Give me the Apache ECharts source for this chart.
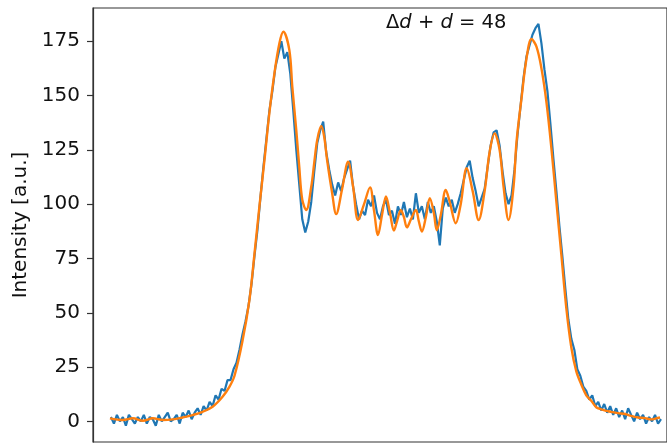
<!DOCTYPE html>
<html>
<head>
<meta charset="utf-8">
<title>Intensity profile</title>
<script src="https://cdn.jsdelivr.net/npm/echarts@6/dist/echarts.min.js"></script>
<style>
  html, body { margin: 0; padding: 0; background: #fff; }
  #chart { width: 667px; height: 444px; }
</style>
</head>
<body>
<div id="chart"></div>
<script>
// y ticks shown on the left axis
var yTicks = [0, 25, 50, 75, 100, 125, 150, 175];

// measured profile (blue), equally spaced samples
var measStart = 18, measStep = 3;
var measured = [
  2, -1, 3, 0, 2, -2, 3, 1, -1, 2,
  0, 3, -1, 2, 1, -2, 3, 0, 2, 4,
  0, 1, 3, -1, 4, 2, 5, 1, 4, 6,
  3, 7, 5, 9, 7, 12, 10, 15, 14, 19,
  19, 24, 27, 33, 40, 46, 53, 63, 76, 88,
  103, 117, 130, 143, 152, 163, 169, 175, 167, 170,
  160, 143, 125, 109, 93, 87, 92, 101, 115, 128,
  134, 138, 124, 116, 109, 104, 110, 106, 112, 116,
  120, 108, 100, 93, 97, 95, 102, 99, 104, 96,
  93, 99, 102, 95, 97, 91, 99, 95, 101, 94,
  98, 93, 105, 96, 99, 93, 101, 96, 99, 92,
  81, 98, 103, 99, 102, 96, 100, 105, 111, 117,
  120, 112, 106, 99, 103, 107, 117, 127, 133, 134,
  127, 115, 105, 100, 104, 116, 132, 145, 158, 168,
  173, 178, 181, 183, 174, 162, 152, 137, 121, 106,
  90, 76, 61, 47, 38, 33, 24, 21, 16, 14,
  10, 12, 7, 9, 5, 8, 4, 7, 3, 6,
  2, 5, 1, 6, 3, 0, 4, 1, 3, -1,
  2, 0, 3, -1, 1
];

// fitted profile (orange)
var fitX = [17, 30, 40, 50, 60, 70, 80, 90, 100, 110,
  120, 130, 137, 142, 150, 157, 162, 167, 172, 177,
  182, 187, 191, 197, 200, 204, 207, 210, 214, 219,
  222, 225, 229, 232, 235, 240, 244, 250, 256, 261,
  266, 272, 278, 282, 286, 290, 294, 298, 302, 305,
  309, 312, 315, 319, 324, 327, 330, 334, 338, 342,
  345, 349, 354, 358, 364, 369, 375, 381, 387, 393,
  398, 403, 408, 412, 417, 422, 425, 430, 435, 440,
  445, 450, 455, 460, 465, 470, 475, 480, 485, 490,
  495, 500, 505, 510, 515, 520, 527, 534, 540, 547,
  554, 560, 565, 569];
var fitY = [1.4, 0.6, 1.4, 0.3, 1.4, 0.6, 0.9, 1.8, 2.9, 4.4,
  6.7, 11.3, 16, 21, 37, 56, 77, 99, 120, 142,
  160, 174, 179.4, 171, 154, 134, 117, 102, 97.3, 108,
  119, 129.5, 136, 131, 120, 105, 95.4, 107, 119.5, 108,
  92.7, 100, 107.7, 97, 85.8, 95, 103.5, 96, 87.8, 92,
  97.3, 94, 89.3, 93, 97.3, 92, 87.4, 94, 102.7, 96,
  88, 95, 106.5, 101, 91.2, 100, 116.5, 106, 92.7, 106,
  124, 132.6, 125, 108, 92.7, 108, 128.7, 148.7, 167, 176,
  172.5, 162.5, 147, 125.7, 101, 76.6, 52, 34, 23, 17,
  12, 9.5, 6.5, 5.5, 4.8, 4.4, 3.8, 3.4, 2.5, 1.8,
  1.5, 0.9, 1.4, 1.8];

var measData = measured.map(function (v, i) { return [measStart + i * measStep, v]; });
var fitData = fitX.map(function (x, i) { return [x, fitY[i]]; });

var myChart = echarts.init(document.getElementById('chart'));
var font = 'DejaVu Sans';
var option = {
  animation: false,
  backgroundColor: '#fff',
  title: {
    text: '{n|Δ}{i|d}{n| + }{i|d}{n| = 48}',
    left: 386,
    top: 13,
    padding: 0,
    textStyle: {
      rich: {
        n: { fontFamily: font, fontSize: 19.5, fontWeight: 'normal', color: '#111' },
        i: { fontFamily: font, fontSize: 19.5, fontWeight: 'normal', fontStyle: 'italic', color: '#111' }
      }
    }
  },
  grid: {
    left: 93, top: 8, width: 576, height: 434,
    show: true, borderColor: '#333', borderWidth: 1.2
  },
  xAxis: {
    type: 'value', min: 0, max: 576,
    axisLine: { show: false },
    axisTick: { show: false },
    axisLabel: { show: false },
    splitLine: { show: false }
  },
  yAxis: {
    type: 'value', min: -9.5, max: 190.3,
    name: 'Intensity [a.u.]',
    nameLocation: 'middle',
    nameGap: 55,
    nameTextStyle: { fontFamily: font, fontSize: 20, color: '#111' },
    axisLine: { show: true, lineStyle: { color: '#333', width: 1.2 } },
    axisTick: { show: true, length: 6, customValues: yTicks, lineStyle: { color: '#333', width: 1.2 } },
    axisLabel: { customValues: yTicks, fontFamily: font, fontSize: 20, color: '#111', margin: 13 },
    splitLine: { show: false }
  },
  series: [
    {
      type: 'line', data: measData, showSymbol: false,
      lineStyle: { color: '#1f77b4', width: 2.2 }
    },
    {
      type: 'line', data: fitData, showSymbol: false, smooth: 0.35,
      lineStyle: { color: '#ff7f0e', width: 2.4 }
    }
  ]
};
myChart.setOption(option);
</script>
</body>
</html>
